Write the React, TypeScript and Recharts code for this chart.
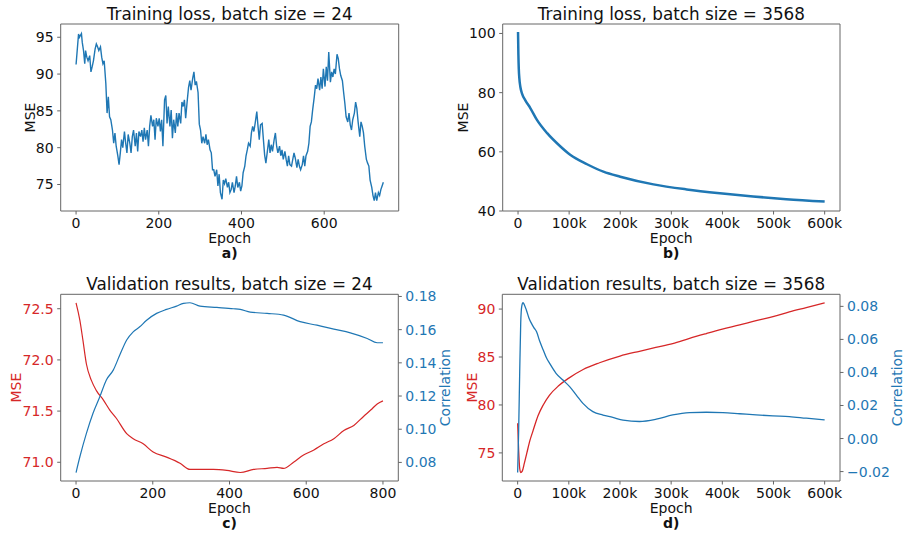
import React from "react";
import { LineChart, Line, XAxis, YAxis } from "recharts";

const FONT = "'DejaVu Sans', Verdana, sans-serif";
const BLUE = "#1f77b4";
const RED = "#d62728";
const SPINE = "#666";
const INK = "#111";

// a) training loss, batch size = 24
const aEpoch = [
  0, 6, 8, 13, 15, 18, 21, 23, 26, 29,
  33, 36, 39, 42, 46, 49, 52, 55, 59, 62,
  65, 68, 72, 75, 78, 81, 84, 88, 91, 94,
  97, 101, 104, 107, 110, 113, 117, 120, 123, 126,
  130, 133, 136, 139, 143, 146, 149, 152, 156, 159,
  162, 165, 168, 172, 175, 178, 181, 185, 188, 191,
  194, 198, 201, 204, 207, 210, 214, 217, 220, 223,
  227, 230, 233, 236, 240, 243, 246, 249, 253, 256,
  259, 262, 265, 269, 272, 275, 278, 282, 285, 288,
  291, 295, 298, 301, 304, 307, 311, 314, 317, 320,
  324, 327, 330, 333, 336, 340, 343, 346, 349, 353,
  356, 359, 362, 366, 369, 372, 375, 378, 382, 385,
  388, 391, 395, 398, 401, 404, 408, 411, 414, 417,
  421, 424, 427, 430, 433, 437, 440, 443, 446, 450,
  453, 456, 459, 463, 466, 469, 472, 475, 479, 482,
  485, 488, 492, 495, 498, 501, 505, 508, 511, 514,
  517, 521, 524, 527, 530, 534, 537, 540, 543, 547,
  550, 553, 556, 560, 563, 566, 569, 572, 576, 579,
  582, 585, 589, 592, 595, 598, 602, 605, 608, 611,
  615, 618, 621, 624, 627, 631, 634, 637, 640, 644,
  647, 650, 653, 657, 660, 663, 666, 669, 673, 676,
  679, 682, 686, 689, 692, 695, 698, 702, 705, 708,
  711, 715, 718, 721, 724, 727, 731, 734, 737, 740, 743,
];
const aMse = [
  91.3, 95.45, 95.0, 95.5, 94.3, 93.2, 91.4, 93.2, 92.3, 91.8,
  92.5, 90.3, 91.0, 91.8, 93.4, 94.1, 93.7, 93.2, 93.7, 92.3,
  91.4, 91.8, 88.7, 84.7, 86.9, 84.2, 83.8, 82.4, 80.6, 82.0,
  80.2, 78.9, 77.7, 79.3, 81.1, 80.0, 82.2, 80.6, 79.3, 81.8,
  80.6, 79.3, 81.5, 82.4, 80.2, 82.0, 79.5, 82.2, 81.5, 82.4,
  80.8, 82.7, 81.1, 82.4, 80.2, 82.9, 84.4, 82.9, 83.8, 81.1,
  84.0, 82.9, 84.0, 82.2, 83.8, 80.2, 86.5, 87.1, 83.3, 85.6,
  82.9, 85.1, 81.3, 83.8, 82.0, 84.7, 82.9, 84.7, 83.3, 86.2,
  85.6, 86.5, 84.0, 86.5, 88.2, 89.1, 87.8, 89.4, 90.3, 88.5,
  89.0, 87.5, 83.2, 82.4, 80.6, 81.5, 80.6, 81.8, 80.4, 81.1,
  79.7, 79.3, 77.0, 77.0, 76.1, 77.0, 74.8, 76.4, 73.9, 73.0,
  75.6, 75.1, 75.8, 74.6, 75.3, 73.9, 74.3, 75.3, 73.9, 74.8,
  76.1, 74.6, 75.3, 74.1, 74.8, 76.6, 77.5, 78.9, 79.7, 80.6,
  80.2, 82.0, 82.9, 82.2, 83.3, 84.9, 82.9, 81.1, 83.1, 83.3,
  81.1, 79.0, 77.9, 79.7, 81.1, 79.3, 80.4, 79.5, 81.1, 82.0,
  80.2, 79.3, 80.2, 78.9, 79.7, 78.4, 79.5, 78.4, 77.5, 78.9,
  77.7, 77.5, 78.4, 79.3, 78.6, 77.3, 78.4, 77.5, 77.0, 77.7,
  78.9, 77.5, 78.9, 79.5, 80.6, 82.9, 83.5, 85.1, 86.9, 88.5,
  88.0, 89.4, 87.8, 89.6, 88.0, 90.7, 88.3, 91.0, 89.1, 93.0,
  88.9, 90.3, 89.6, 90.7, 90.0, 92.7, 92.1, 90.7, 89.8, 89.1,
  87.5, 86.0, 84.2, 83.5, 84.7, 83.1, 82.4, 83.8, 84.7, 86.2,
  85.3, 83.5, 81.5, 83.5, 82.9, 82.0, 80.2, 78.4, 77.9, 77.5,
  75.6, 74.6, 73.5, 72.8, 73.9, 72.8, 73.9, 73.5, 74.3, 74.8, 75.3,
];
const aXTicks = [0, 200, 400, 600];
const aYTicks = [75, 80, 85, 90, 95];

// b) training loss, batch size = 3568
const bEpoch = [0, 700, 1500, 2500, 4500, 8000, 14000, 24000, 37000, 57000, 83000, 102000, 135000, 167000, 200000, 265000, 330000, 395000, 460000, 525000, 600000];
const bMse = [100.5, 93, 88, 85, 82, 79.6, 77.5, 74.8, 70.8, 66.3, 61.8, 59.0, 55.8, 53.3, 51.6, 49.0, 47.3, 46.0, 44.9, 44.0, 43.2];
const bXTicks = [0, 100000, 200000, 300000, 400000, 500000, 600000];
const bYTicks = [40, 60, 80, 100];

// c) validation results, batch size = 24
const cMseEpoch = [0, 10, 18, 27, 40, 53, 71, 88, 105, 132, 149, 175, 201, 236, 271, 297, 323, 358, 393, 428, 463, 498, 524, 541, 567, 593, 620, 646, 672, 698, 724, 750, 768, 785, 800];
const cMse = [72.558, 72.386, 72.19, 71.96, 71.8, 71.7, 71.61, 71.51, 71.43, 71.28, 71.23, 71.18, 71.1, 71.05, 70.99, 70.93, 70.93, 70.93, 70.92, 70.9, 70.93, 70.94, 70.95, 70.94, 71.0, 71.07, 71.12, 71.18, 71.23, 71.31, 71.36, 71.45, 71.51, 71.57, 71.6];
const cCorrEpoch = [0, 10, 27, 44, 62, 79, 97, 114, 132, 149, 166, 184, 210, 236, 262, 280, 297, 323, 367, 410, 428, 454, 498, 541, 584, 628, 672, 715, 759, 785, 800];
const cCorr = [0.0739, 0.0834, 0.0975, 0.1095, 0.1196, 0.1297, 0.1356, 0.1447, 0.1538, 0.1587, 0.1617, 0.1657, 0.1698, 0.1722, 0.1742, 0.1758, 0.1762, 0.1742, 0.1734, 0.1726, 0.1722, 0.1706, 0.1698, 0.1688, 0.1648, 0.1627, 0.1603, 0.1581, 0.1547, 0.1521, 0.1521];
const cXTicks = [0, 200, 400, 600, 800];
const cMseTicks = [71.0, 71.5, 72.0, 72.5];
const cCorrTicks = [0.08, 0.1, 0.12, 0.14, 0.16, 0.18];

// d) validation results, batch size = 3568
const dMseEpoch = [0, 2000, 4000, 6000, 9000, 13000, 18000, 24000, 30000, 40000, 50000, 62000, 80000, 100000, 128000, 160000, 200000, 238000, 270000, 303000, 336000, 369000, 400000, 434000, 466000, 499000, 531000, 564000, 600000];
const dMse = [78.1, 75.2, 73.4, 72.95, 73.1, 73.9, 75.0, 76.3, 77.3, 78.9, 80.0, 81.0, 82.0, 82.8, 83.7, 84.4, 85.1, 85.6, 86.0, 86.4, 86.95, 87.45, 87.9, 88.35, 88.8, 89.2, 89.7, 90.15, 90.65];
const dCorrEpoch = [0, 2000, 4000, 6000, 8000, 10500, 13000, 17000, 22000, 27000, 32000, 37000, 43000, 50000, 56000, 62500, 75000, 88500, 101600, 114700, 127600, 147000, 166700, 186000, 206000, 238000, 271000, 303000, 336000, 369000, 401000, 434000, 466000, 499000, 531000, 564000, 600000];
const dCorr = [-0.0206, 0.005, 0.04, 0.07, 0.08, 0.0822, 0.081, 0.0778, 0.073, 0.0697, 0.067, 0.0646, 0.059, 0.0536, 0.049, 0.0455, 0.0395, 0.0354, 0.0314, 0.0263, 0.0213, 0.0163, 0.0142, 0.0128, 0.0111, 0.0103, 0.0117, 0.0143, 0.0157, 0.0159, 0.0157, 0.015, 0.0143, 0.0137, 0.0133, 0.0123, 0.0113];
const dXTicks = [0, 100000, 200000, 300000, 400000, 500000, 600000];
const dMseTicks = [75, 80, 85, 90];
const dCorrTicks = [-0.02, 0, 0.02, 0.04, 0.06, 0.08];

const zip = (xs: number[], ys: number[]) => xs.map((x, i) => ({ x, y: ys[i] }));

const intFmt = (v: number) => String(v);
const kFmt = (v: number) => (v === 0 ? "0" : `${v / 1000}k`);
const oneFmt = (v: number) => v.toFixed(1);
const corrFmt = (v: number) => (v < 0 ? "\u2212" + (-v).toFixed(2) : v.toFixed(2));

type AxisCfg = { domain: [number, number]; ticks: number[]; fmt: (v: number) => string; color: string };

function Panel(props: {
  left: number; top: number; width: number; height: number;
  plot: { l: number; r: number; t: number; b: number };
  x: AxisCfg; yl: AxisCfg; yr?: AxisCfg;
  children: React.ReactNode;
}) {
  const { left, top, width, height, plot, x, yl, yr } = props;
  const font = { fontSize: 14, fontFamily: FONT };
  const line = { stroke: SPINE, strokeWidth: 1 };
  return (
    <div style={{ position: "absolute", left, top }}>
      <LineChart width={width} height={height} margin={{ top: 0, right: 0, bottom: 0, left: 0 }}>
        <XAxis xAxisId="b" type="number" dataKey="x" domain={x.domain} ticks={x.ticks} interval={0}
          allowDataOverflow tickFormatter={x.fmt} height={height - plot.b} tickSize={3.5} tickMargin={3.06}
          axisLine={line} tickLine={line} tick={{ ...font, fill: x.color }} />
        <XAxis xAxisId="t" orientation="top" type="number" domain={x.domain} allowDataOverflow
          height={plot.t} tick={false} tickLine={false} axisLine={line} />
        <YAxis yAxisId="l" type="number" domain={yl.domain} ticks={yl.ticks} interval={0}
          allowDataOverflow tickFormatter={yl.fmt} width={plot.l} tickSize={3.5} tickMargin={3.5}
          axisLine={line} tickLine={line} tick={{ ...font, fill: yl.color }} />
        {yr ? (
          <YAxis yAxisId="r" orientation="right" type="number" domain={yr.domain} ticks={yr.ticks} interval={0}
            allowDataOverflow tickFormatter={yr.fmt} width={width - plot.r} tickSize={3.5} tickMargin={3.5}
            axisLine={line} tickLine={line} tick={{ ...font, fill: yr.color }} />
        ) : (
          <YAxis yAxisId="r" orientation="right" type="number" domain={[0, 1]} allowDataOverflow
            width={width - plot.r} tick={false} tickLine={false} axisLine={line} />
        )}
        {props.children}
      </LineChart>
    </div>
  );
}

const titles = [
  { x: 229.7, y: 19.5, t: "Training loss, batch size = 24" },
  { x: 671.3, y: 19.5, t: "Training loss, batch size = 3568" },
  { x: 229.5, y: 289.8, t: "Validation results, batch size = 24" },
  { x: 671.2, y: 289.8, t: "Validation results, batch size = 3568" },
];
const xLabels = [
  { x: 229.7, y: 242.5, l: "a)" },
  { x: 671.3, y: 242.5, l: "b)" },
  { x: 229.5, y: 512.5, l: "c)" },
  { x: 671.2, y: 512.5, l: "d)" },
];
const yLabels = [
  { x: 35, y: 117.5, t: "MSE", c: INK },
  { x: 468.3, y: 117.5, t: "MSE", c: INK },
  { x: 20.7, y: 387.6, t: "MSE", c: RED },
  { x: 450, y: 387.6, t: "Correlation", c: BLUE },
  { x: 476.7, y: 387.6, t: "MSE", c: RED },
  { x: 902.3, y: 387.6, t: "Correlation", c: BLUE },
];

export default function App() {
  const topPlot = { t: 24, b: 211 };
  const botPlot = { t: 24.3, b: 211 };
  return (
    <div style={{ position: "absolute", left: 0, top: 0, width: 904, height: 533, background: "#fff", overflow: "hidden" }}>
      <Panel left={0} top={0} width={420} height={260} plot={{ l: 60.7, r: 398.7, ...topPlot }}
        x={{ domain: [-37.15, 780.15], ticks: aXTicks, fmt: intFmt, color: INK }}
        yl={{ domain: [71.4, 96.8], ticks: aYTicks, fmt: intFmt, color: INK }}>
        <Line xAxisId="b" yAxisId="l" data={zip(aEpoch, aMse)} dataKey="y" type="linear" stroke={BLUE}
          strokeWidth={1.4} dot={false} isAnimationActive={false} />
      </Panel>
      <Panel left={420} top={0} width={484} height={260} plot={{ l: 82.7, r: 420, ...topPlot }}
        x={{ domain: [-30000, 630000], ticks: bXTicks, fmt: kFmt, color: INK }}
        yl={{ domain: [40, 103.2], ticks: bYTicks, fmt: intFmt, color: INK }}>
        <Line xAxisId="b" yAxisId="l" data={zip(bEpoch, bMse)} dataKey="y" type="monotone" stroke={BLUE}
          strokeWidth={2.5} dot={false} isAnimationActive={false} />
      </Panel>
      <Panel left={0} top={270} width={460} height={263} plot={{ l: 60.7, r: 398.3, ...botPlot }}
        x={{ domain: [-40, 840], ticks: cXTicks, fmt: intFmt, color: INK }}
        yl={{ domain: [70.817, 72.641], ticks: cMseTicks, fmt: oneFmt, color: RED }}
        yr={{ domain: [0.0688, 0.1813], ticks: cCorrTicks, fmt: corrFmt, color: BLUE }}>
        <Line xAxisId="b" yAxisId="l" data={zip(cMseEpoch, cMse)} dataKey="y" type="monotone" stroke={RED}
          strokeWidth={1.2} dot={false} isAnimationActive={false} />
        <Line xAxisId="b" yAxisId="r" data={zip(cCorrEpoch, cCorr)} dataKey="y" type="monotone" stroke={BLUE}
          strokeWidth={1.2} dot={false} isAnimationActive={false} />
      </Panel>
      <Panel left={460} top={270} width={444} height={263} plot={{ l: 42.3, r: 380, ...botPlot }}
        x={{ domain: [-30000, 630000], ticks: dXTicks, fmt: kFmt, color: INK }}
        yl={{ domain: [72.07, 91.54], ticks: dMseTicks, fmt: intFmt, color: RED }}
        yr={{ domain: [-0.0257, 0.0873], ticks: dCorrTicks, fmt: corrFmt, color: BLUE }}>
        <Line xAxisId="b" yAxisId="l" data={zip(dMseEpoch, dMse)} dataKey="y" type="monotone" stroke={RED}
          strokeWidth={1.3} dot={false} isAnimationActive={false} />
        <Line xAxisId="b" yAxisId="r" data={zip(dCorrEpoch, dCorr)} dataKey="y" type="monotone" stroke={BLUE}
          strokeWidth={1.3} dot={false} isAnimationActive={false} />
      </Panel>
      <svg width={904} height={533} style={{ position: "absolute", left: 0, top: 0, pointerEvents: "none" }}
        fontFamily={FONT}>
        {titles.map((d) => (
          <text key={d.t} x={d.x} y={d.y} textAnchor="middle" fontSize={16.8} fill={INK}>{d.t}</text>
        ))}
        {xLabels.map((d) => (
          <g key={d.l}>
            <text x={d.x} y={d.y} textAnchor="middle" fontSize={14} fill={INK}>Epoch</text>
            <text x={d.x} y={d.y + 15} textAnchor="middle" fontSize={14} fontWeight="bold" fill={INK}>{d.l}</text>
          </g>
        ))}
        {yLabels.map((d, i) => (
          <text key={i} x={d.x} y={d.y} textAnchor="middle" fontSize={14} fill={d.c}
            transform={`rotate(-90 ${d.x} ${d.y})`}>{d.t}</text>
        ))}
      </svg>
    </div>
  );
}
